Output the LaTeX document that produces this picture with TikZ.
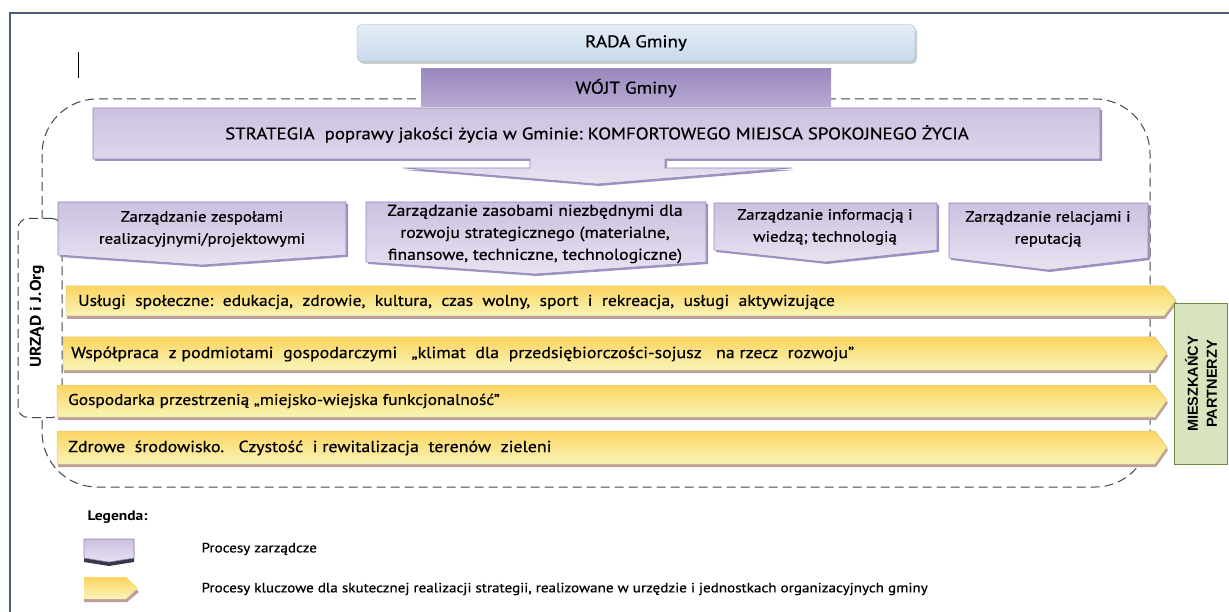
\documentclass[tikz,border=0pt]{standalone}
\usepackage{fontspec}
\setmainfont[FakeStretch=1.12, UprightFeatures={FakeBold=0.6}]{PT Sans}
\newfontfamily\arialfont{Liberation Sans}
\usetikzlibrary{positioning}

\definecolor{framecol}{HTML}{4F5F73}
\definecolor{radatop}{HTML}{E4EDF7}
\definecolor{radabot}{HTML}{C8D9EB}
\definecolor{radaline}{HTML}{9DB3CC}
\definecolor{wojttop}{HTML}{9A89BE}
\definecolor{wojtbot}{HTML}{B8AAD3}
\definecolor{mgmttop}{HTML}{CCC0E0}
\definecolor{mgmtbot}{HTML}{E8E2F1}
\definecolor{mgmtline}{HTML}{9587B8}
\definecolor{mgmtshadow}{HTML}{A092C0}
\definecolor{proctop}{HTML}{FCD460}
\definecolor{procbot}{HTML}{F8F5B8}
\definecolor{procline}{HTML}{DCC57E}
\definecolor{procshadow}{HTML}{BC9E9E}
\definecolor{partnerfill}{HTML}{D7E4BD}
\definecolor{partnerline}{HTML}{6E8A3E}
\definecolor{dashcol}{HTML}{444444}

\tikzset{
  boxtext/.style={font=\fontsize{16}{18}\selectfont, inner sep=0pt},
  mgmttext/.style={font=\fontsize{15}{22}\selectfont, align=center, inner sep=0pt},
  mgmtshape/.style={top color=mgmttop, bottom color=mgmtbot, draw=mgmtline, line width=0.6pt},
  procshape/.style={top color=proctop, bottom color=procbot, draw=procline, line width=0.5pt},
  dashline/.style={draw=dashcol, dash pattern=on 9pt off 5pt, line width=1pt}
}

\begin{document}
\begin{tikzpicture}[x=1pt,y=-1pt]
	\useasboundingbox (0,0) rectangle (1229,612);
	
	% Frame
	\draw [framecol, line width=2pt] (10,612) -- (10,13) -- (1229,13);
	\draw [black, line width=0.8pt] (78,52) -- (78,78);
	
	% Outer dashed area
	\draw [dashline, rounded corners=55pt] (42,99) rectangle (1150,487);
	
	% Rada
	\fill [gray!40, rounded corners=5pt] (359,27) rectangle (917,64);
	\node [draw=radaline,
	top color=radatop,
	bottom color=radabot,
	rounded corners=5pt,
	minimum width=558pt,
	minimum height=37pt,
	boxtext,
	font=\fontsize{17}{19}\selectfont] (rada) at (636,43) {RADA Gminy};
	
	% Wojt
	\node [top color=wojttop,
	bottom color=wojtbot,
	minimum width=410pt,
	minimum height=38pt,
	boxtext,
	font=\fontsize{17}{19}\selectfont] (wojt) at (626,88) {WÓJT Gminy};
	
	% Strategia arrow
	\fill [mgmtshadow] (95,110) -- (1102,110) -- (1102,161) -- (667,161) -- (667,170) -- (794,170)
	-- (599,186) -- (405,170) -- (532,170) -- (532,161) -- (95,161) -- cycle;
	\path [mgmtshape] (93,108) -- (1100,108) -- (1100,159) -- (665,159) -- (665,168) -- (792,168)
	-- (597,184) -- (403,168) -- (530,168) -- (530,159) -- (93,159) -- cycle;
	\node [boxtext, font=\fontsize{16.8}{19}\selectfont] (strategia) at (597,134)
	{STRATEGIA\ \ poprawy jakości życia w Gminie:\ KOMFORTOWEGO MIEJSCA SPOKOJNEGO ŻYCIA};
	
	% Urzad
	\node [dashline,
	fill=white,
	rounded corners=10pt,
	minimum width=44pt,
	minimum height=199pt] (urzad) at (40,318) {};
	\node [rotate=90, font=\fontsize{15.5}{17}\selectfont\bfseries] (urzadtext) at (37,316) {URZĄD i J.Org};
	
	% Management processes
	\fill [mgmtshadow] (60,204) -- (348,204) -- (348,257) -- (204,267) -- (60,257) -- cycle;
	\path [mgmtshape] (58,202) -- (346,202) -- (346,255) -- (202,265) -- (58,255) -- cycle;
	\node [mgmttext] (zespoly) at (202,229) {Zarządzanie zespołami\\realizacyjnymi/projektowymi};
	
	\fill [mgmtshadow] (368,204) -- (708,204) -- (708,264) -- (537,276) -- (368,264) -- cycle;
	\path [mgmtshape] (366,202) -- (706,202) -- (706,262) -- (535,274) -- (366,262) -- cycle;
	\node [mgmttext, font=\fontsize{15.8}{22}\selectfont] (zasoby) at (535,234) {Zarządzanie zasobami niezbędnymi dla\\rozwoju strategicznego (materialne,\\finansowe, techniczne, technologiczne)};
	
	\fill [mgmtshadow] (716,205) -- (939,205) -- (939,252) -- (827,264) -- (716,252) -- cycle;
	\path [mgmtshape] (714,203) -- (937,203) -- (937,250) -- (825,262) -- (714,250) -- cycle;
	\node [mgmttext] (informacja) at (825,227) {Zarządzanie informacją i\\wiedzą; technologią};
	
	\fill [mgmtshadow] (951,205) -- (1150,205) -- (1150,260) -- (1050,272) -- (951,260) -- cycle;
	\path [mgmtshape] (949,203) -- (1148,203) -- (1148,258) -- (1048,270) -- (949,258) -- cycle;
	\node [mgmttext] (relacje) at (1048,229) {Zarządzanie relacjami i\\reputacją};
	
	% Key processes
	\fill [procshadow] (67,289) -- (1165,289) -- (1177,303) -- (1165,319) -- (67,319) -- cycle;
	\path [procshape] (66,286) -- (1164,286) -- (1176,300) -- (1164,316) -- (66,316) -- cycle;
	\node [boxtext, anchor=west, font=\fontsize{15.7}{18}\selectfont] (uslugi) at (78,302)
	{Usługi\ \ społeczne:\ \ edukacja,\ \ zdrowie,\ \ kultura,\ \ czas\ \ wolny,\ \ sport\ \ i\ \ rekreacja,\ \ usługi\ \ aktywizujące};
	
	\fill [procshadow] (64,340) -- (1156,340) -- (1168,356) -- (1156,373) -- (64,373) -- cycle;
	\path [procshape] (63,337) -- (1155,337) -- (1167,353) -- (1155,370) -- (63,370) -- cycle;
	\node [boxtext, anchor=west] (wspolpraca) at (71,354)
	{Współpraca\ \ z podmiotami\ \ gospodarczymi\ \ \ „klimat\ \ dla\ \ przedsiębiorczości-sojusz\ \ \ na rzecz\ \ rozwoju”};
	
	\fill [procshadow] (58,388) -- (1156,388) -- (1168,403) -- (1156,420) -- (58,420) -- cycle;
	\path [procshape] (57,385) -- (1155,385) -- (1167,400) -- (1155,417) -- (57,417) -- cycle;
	\node [boxtext, anchor=west, font=\fontsize{15.5}{18}\selectfont] (gospodarka) at (68,401)
	{Gospodarka\ przestrzenią\ „miejsko-wiejska\ funkcjonalność”};
	
	\fill [procshadow] (58,434) -- (1156,434) -- (1168,450) -- (1156,467) -- (58,467) -- cycle;
	\path [procshape] (57,431) -- (1155,431) -- (1167,447) -- (1155,464) -- (57,464) -- cycle;
	\node [boxtext, anchor=west] (srodowisko) at (68,448)
	{Zdrowe\ \ środowisko.\ \ \ Czystość\ \ i rewitalizacja\ \ terenów\ \ zieleni};
	
	% Residents
	\node [draw=partnerline,
	fill=partnerfill,
	line width=1pt,
	minimum width=53pt,
	minimum height=161pt] (partnerzy) at (1201,384) {};
	\node [rotate=90,
	align=center,
	font=\arialfont\fontsize{14.5}{19}\selectfont\bfseries] (partnerzytext) at (1201,384) {MIESZKAŃCY\\PARTNERZY};
	
	% Legend
	\node [anchor=west, font=\fontsize{13.8}{16}\selectfont\bfseries] (legenda) at (84,517) {Legenda:};
	\fill [black!60!mgmtline] (84,542) -- (134,542) -- (134,562) -- (109,566) -- (84,562) -- cycle;
	\path [mgmtshape] (84,539) -- (134,539) -- (134,558) -- (109,562) -- (84,558) -- cycle;
	\node [anchor=west, font=\fontsize{13.5}{15}\selectfont] (leg1) at (198,549) {Procesy zarządcze};
	\fill [procshadow] (84,580) -- (127,580) -- (139,592) -- (127,602) -- (84,602) -- cycle;
	\path [top color=proctop, bottom color=procbot] (84,577) -- (126,577) -- (138,588) -- (126,599) -- (84,599) -- cycle;
	\node [anchor=west, font=\fontsize{13.5}{15}\selectfont] (leg2) at (198,589)
	{Procesy kluczowe dla skutecznej realizacji strategii, realizowane w urzędzie i jednostkach organizacyjnych gminy};
	
\end{tikzpicture}
\end{document}
